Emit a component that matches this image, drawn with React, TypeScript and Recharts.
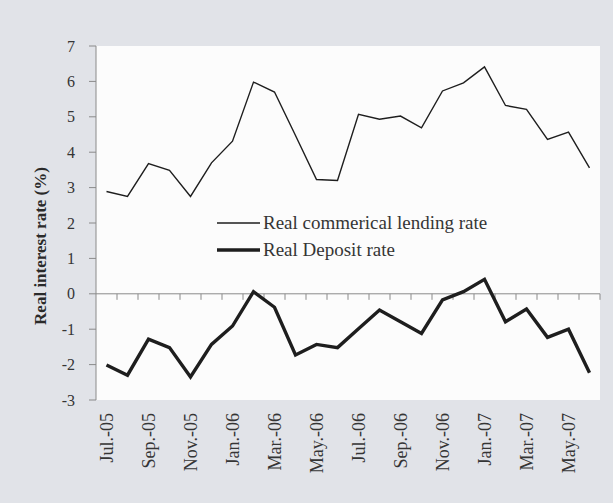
import React from "react";
import { LineChart, Line, XAxis, YAxis, ReferenceLine, CartesianGrid, Legend, Label } from "recharts";

const categories = [
  "Jul.-05", "Aug.-05", "Sep.-05", "Oct.-05", "Nov.-05", "Dec.-05",
  "Jan.-06", "Feb.-06", "Mar.-06", "Apr.-06", "May.-06", "Jun.-06",
  "Jul.-06", "Aug.-06", "Sep.-06", "Oct.-06", "Nov.-06", "Dec.-06",
  "Jan.-07", "Feb.-07", "Mar.-07", "Apr.-07", "May.-07", "Jun.-07",
];

const lendingRate = [
  2.89, 2.75, 3.68, 3.49, 2.75, 3.70, 4.31, 5.98, 5.70, 4.47, 3.23, 3.20,
  5.07, 4.93, 5.02, 4.69, 5.73, 5.96, 6.41, 5.32, 5.21, 4.36, 4.57, 3.56,
];

const depositRate = [
  -2.01, -2.30, -1.28, -1.52, -2.35, -1.43, -0.91, 0.06, -0.38, -1.73, -1.43, -1.52,
  -0.99, -0.46, -0.79, -1.12, -0.17, 0.06, 0.41, -0.79, -0.43, -1.23, -1.00, -2.23,
];

const tickLabels = [
  "Jul.-05", "Sep.-05", "Nov.-05", "Jan.-06", "Mar.-06", "May.-06",
  "Jul.-06", "Sep.-06", "Nov.-06", "Jan.-07", "Mar.-07", "May.-07",
];

const yTicks = [-3, -2, -1, 0, 1, 2, 3, 4, 5, 6, 7];

const seriesNames = {
  lending: "Real commerical lending rate",
  deposit: "Real Deposit rate",
};
const seriesOrder = ["lending", "deposit"];

const data = categories.map((m, i) => ({
  idx: i,
  month: m,
  lending: lendingRate[i],
  deposit: depositRate[i],
}));

const xTickValues = tickLabels.map((t) => categories.indexOf(t));
const boundaries = categories.map((_, i) => i + 0.5);

const FONT = '"Liberation Serif", "DejaVu Serif", serif';
const TEXT = "#353535";
const AXIS = "#8a8a8a";
const widths: Record<string, number> = { lending: 1.4, deposit: 3.4 };

const XTick = (props: any) => {
  const { x, y, payload } = props;
  return (
    <text
      x={x}
      y={y}
      transform={`rotate(-90 ${x} ${y})`}
      textAnchor="end"
      dominantBaseline="central"
      fontFamily={FONT}
      fontSize={18}
      fill={TEXT}
    >
      {categories[payload.value]}
    </text>
  );
};

const renderLegend = (props: any) => {
  const payload = [...(props.payload || [])].sort(
    (a: any, b: any) => seriesOrder.indexOf(a.dataKey) - seriesOrder.indexOf(b.dataKey)
  );
  return (
    <div style={{ fontFamily: FONT, fontSize: 19, color: TEXT, lineHeight: 1 }}>
      {payload.map((e: any) => (
        <div key={e.dataKey} style={{ display: "flex", alignItems: "center", height: 27 }}>
          <svg width={43} height={10} style={{ display: "block" }}>
            <line x1={0} x2={43} y1={5} y2={5} stroke="#1e1e1e" strokeWidth={widths[e.dataKey] || 1.5} />
          </svg>
          <span style={{ marginLeft: 3, whiteSpace: "nowrap" }}>{e.value}</span>
        </div>
      ))}
    </div>
  );
};

export default function App() {
  return (
    <div style={{ position: "fixed", left: 0, top: 0, width: 613, height: 503, background: "#e1e3e8" }}>
      <LineChart width={613} height={503} data={data} margin={{ top: 46, right: 13, left: 0, bottom: 0 }}>
        <CartesianGrid horizontal={false} vertical={false} fill="#fcfcfc" />
        <XAxis
          dataKey="idx"
          type="number"
          domain={[-0.5, 23.5]}
          ticks={xTickValues}
          tick={<XTick />}
          tickLine={false}
          axisLine={false}
          tickSize={0}
          tickMargin={13}
          height={103}
          interval={0}
        />
        <YAxis
          domain={[-3, 7]}
          ticks={yTicks}
          width={96}
          tickSize={7}
          tickMargin={14}
          axisLine={{ stroke: AXIS }}
          tickLine={{ stroke: AXIS }}
          tick={{ fontFamily: FONT, fontSize: 16, fill: TEXT }}
          interval={0}
        >
          <Label
            content={(p: any) => {
              const vb = p.viewBox || { x: 0, y: 46 };
              const cx = vb.x + 40;
              const cy = 246;
              return (
                <text
                  x={cx}
                  y={cy}
                  transform={`rotate(-90 ${cx} ${cy})`}
                  textAnchor="middle"
                  dominantBaseline="central"
                  fontFamily={FONT}
                  fontWeight="bold"
                  fontSize={17}
                  fill="#2a2a2a"
                >
                  Real interest rate (%)
                </text>
              );
            }}
          />
        </YAxis>
        <ReferenceLine y={0} stroke={AXIS} strokeWidth={1} />
        {boundaries.map((b) => (
          <ReferenceLine
            key={b}
            segment={[{ x: b, y: 0 }, { x: b, y: -0.17 }]}
            stroke={AXIS}
            strokeWidth={1}
          />
        ))}
        <Legend
          layout="vertical"
          align="center"
          verticalAlign="middle"
          content={renderLegend}
          wrapperStyle={{ position: "absolute", left: 217, top: 209, width: 320, height: 54 }}
        />
        <Line
          type="linear"
          dataKey="lending"
          name={seriesNames.lending}
          stroke="#1e1e1e"
          strokeWidth={widths.lending}
          dot={false}
          activeDot={false}
          isAnimationActive={false}
        />
        <Line
          type="linear"
          dataKey="deposit"
          name={seriesNames.deposit}
          stroke="#1e1e1e"
          strokeWidth={widths.deposit}
          dot={false}
          activeDot={false}
          isAnimationActive={false}
        />
      </LineChart>
    </div>
  );
}
